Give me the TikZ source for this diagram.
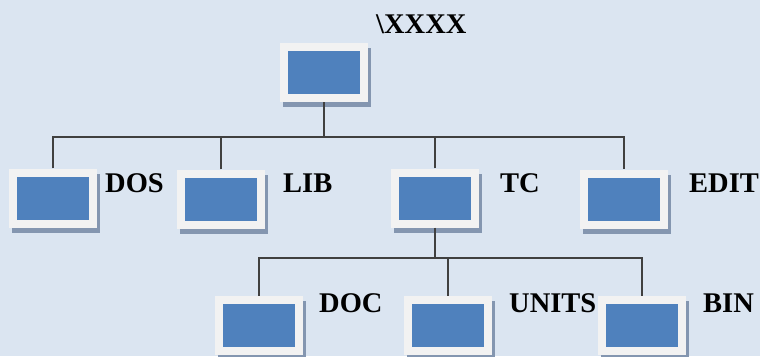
\documentclass[tikz,border=0pt]{standalone}
\usepackage{fontspec}
\setmainfont{Liberation Serif}
\usetikzlibrary{shadows}
\definecolor{bgcolor}{RGB}{219,229,241}
\definecolor{framecolor}{RGB}{242,242,242}
\definecolor{screencolor}{RGB}{79,129,189}
\definecolor{shadecolor}{RGB}{132,150,176}
\definecolor{linecolor}{RGB}{64,64,64}

\begin{document}
\begin{tikzpicture}[x=1pt, y=-1pt,
    pcbox/.style={rectangle, fill=framecolor, minimum width=88pt, minimum height=59pt, inner sep=0pt,
        drop shadow={shadow xshift=3pt, shadow yshift=-5pt, fill=shadecolor, opacity=1},
        path picture={\fill[screencolor] ([shift={(8pt,8pt)}]path picture bounding box.south west)
            rectangle ([shift={(-8pt,-8pt)}]path picture bounding box.north east);}},
    link/.style={draw=linecolor, line width=2pt},
    dirname/.style={anchor=base west, inner sep=0pt, font=\fontsize{28.5}{30}\selectfont\bfseries},
]
    % Background
    \fill[bgcolor] (0,0) rectangle (760,356);
    \useasboundingbox (0,0) rectangle (760,356);

    % Root
    \node[pcbox] (root) at (324,72.5) {};
    \node[dirname] (rootname) at (376,33) {\textbackslash XXXX};

    % First level
    \node[pcbox] (dos) at (53,198) {};
    \node[pcbox] (lib) at (221,199) {};
    \node[pcbox] (tc) at (435,198) {};
    \node[pcbox] (edit) at (624,199) {};
    \node[dirname] (dosname) at (105,192) {DOS};
    \node[dirname] (libname) at (283,192) {LIB};
    \node[dirname] (tcname) at (500,192) {TC};
    \node[dirname] (editname) at (689,192) {EDIT};

    % Second level
    \node[pcbox] (doc) at (259,325.5) {};
    \node[pcbox] (units) at (448,325.5) {};
    \node[pcbox] (bin) at (642,325.5) {};
    \node[dirname] (docname) at (319,312) {DOC};
    \node[dirname] (unitsname) at (509,312) {UNITS};
    \node[dirname] (binname) at (703,312) {BIN};

    % Lines
    \coordinate (bus1) at (0,137);
    \coordinate (bus2) at (0,258);
    \draw[link] (root.south) -- (root.south |- bus1);
    \draw[link] (dos.north) -- (dos.north |- bus1) -- (edit.north |- bus1) -- (edit.north);
    \foreach \n in {lib,tc}
        \draw[link] (\n.north) -- (\n.north |- bus1);
    \draw[link] (tc.south) -- (tc.south |- bus2);
    \draw[link] (doc.north) -- (doc.north |- bus2) -- (bin.north |- bus2) -- (bin.north);
    \draw[link] (units.north) -- (units.north |- bus2);
\end{tikzpicture}
\end{document}
